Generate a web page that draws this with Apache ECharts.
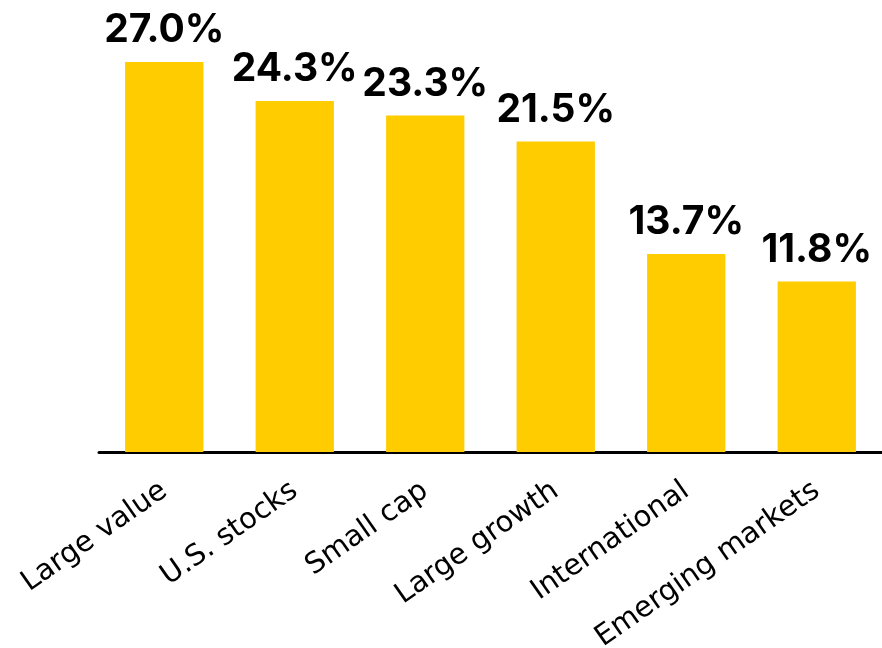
<!DOCTYPE html>
<html>
<head>
<meta charset="utf-8">
<script src="https://cdn.jsdelivr.net/npm/echarts@6/dist/echarts.min.js"></script>
<style>html,body{margin:0;padding:0;background:#fff;}#c{width:882px;height:648px;}</style>
</head>
<body>
<div id="c"></div>
<script>
const categories = ["Large value", "U.S. stocks", "Small cap", "Large growth", "International", "Emerging markets"];
const returns = [27.0, 24.3, 23.3, 21.5, 13.7, 11.8];

const chart = echarts.init(document.getElementById('c'), null, {renderer: 'canvas'});
chart.setOption({
  animation: false,
  backgroundColor: '#ffffff',
  grid: {left: 99, right: 0, top: 62, bottom: 196, containLabel: false, outerBoundsMode: 'none'},
  xAxis: {
    type: 'category',
    data: categories,
    axisLine: {lineStyle: {color: '#000', width: 3}},
    axisTick: {show: false},
    axisLabel: {
      rotate: 35,
      interval: 0,
      margin: 36,
      fontFamily: 'DejaVu Sans',
      fontSize: 29,
      color: '#000'
    }
  },
  yAxis: {
    type: 'value',
    min: 0,
    max: 27,
    show: false,
    splitLine: {show: false}
  },
  series: [{
    type: 'bar',
    data: returns,
    barWidth: '60%',
    itemStyle: {color: '#FFCC00'},
    label: {
      show: true,
      position: 'top',
      distance: 12,
      formatter: p => p.value.toFixed(1) + '%',
      fontFamily: 'Inter',
      fontWeight: 'bold',
      fontSize: 39,
      color: '#000'
    }
  }]
});
</script>
</body>
</html>
